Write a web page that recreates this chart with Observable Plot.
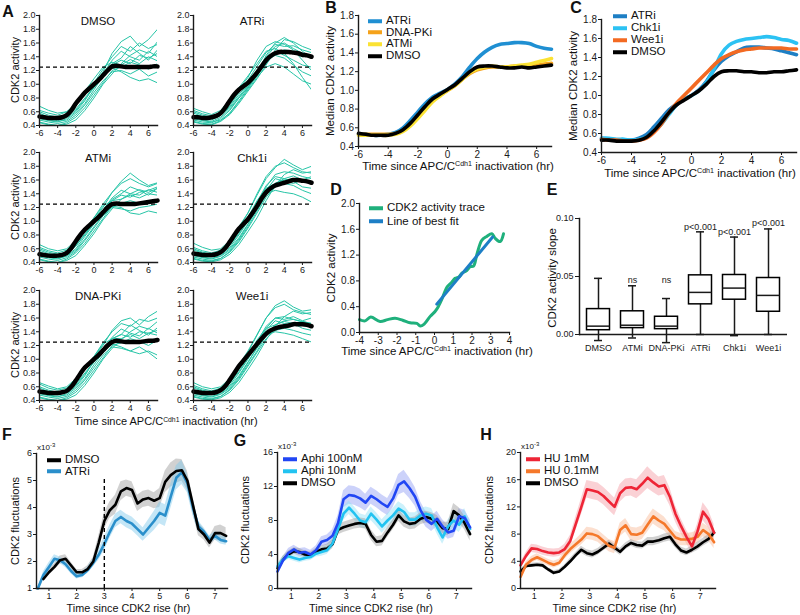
<!DOCTYPE html>
<html><head><meta charset="utf-8">
<script src="https://cdn.jsdelivr.net/npm/d3@7"></script>
<script src="https://cdn.jsdelivr.net/npm/@observablehq/plot@0.6"></script>
<style>
body{margin:0;background:#fff;}
#fig{position:relative;width:800px;height:615px;overflow:hidden;font-family:"Liberation Sans",Arial,sans-serif;color:#111;background:#fff}
.t{position:absolute;white-space:nowrap;transform:translate(-50%,-50%);line-height:1;}
.r{transform:translate(-50%,-50%) rotate(-90deg);}
.sup{font-size:0.62em;position:relative;top:-0.5em}
.lg{position:absolute;white-space:nowrap;line-height:1}
.lg .row{position:absolute;left:0;display:flex;align-items:center;transform:translateY(-50%)}
.lg .sw{display:inline-block;width:14px;height:4px;margin-right:4px}
.letter{position:absolute;font-weight:bold;font-size:16px;transform:translate(-50%,-50%);line-height:1}
</style>
</head><body><div id="fig"></div>
<script>
// ---------------- DATA ----------------
// Panel A
const aNames = ["DMSO","ATRi","ATMi","Chk1i","DNA-PKi","Wee1i"];
const aTimes = [-6,-5.5,-5,-4.5,-4,-3.5,-3,-2.5,-2,-1.5,-1,-0.5,0,0.5,1,1.5,2,2.5,3,3.5,4,4.5,5,5.5,6,6.5,7];
const aTraceTimes = [-6,-5,-4,-3,-2,-1,0,1,2,3,4,5,6,7];
const aXTicks = [-6,-4,-2,0,2,4,6];
const aYTicks = [0.4,0.6,0.8,1.0,1.2,1.4,1.6,1.8,2.0];
const aThreshold = [1.25];
const medDMSO  = [0.53,0.52,0.51,0.51,0.51,0.52,0.55,0.62,0.72,0.80,0.88,0.94,1.00,1.06,1.13,1.20,1.26,1.27,1.26,1.25,1.25,1.25,1.25,1.25,1.25,1.26,1.26];
const medATRi  = [0.52,0.52,0.51,0.51,0.52,0.54,0.58,0.66,0.76,0.85,0.92,0.97,1.02,1.09,1.17,1.26,1.35,1.41,1.45,1.47,1.47,1.47,1.46,1.45,1.43,1.42,1.40];
const medATMi  = [0.52,0.51,0.50,0.50,0.50,0.51,0.54,0.61,0.71,0.80,0.88,0.94,1.00,1.06,1.13,1.20,1.25,1.26,1.25,1.25,1.25,1.25,1.26,1.27,1.28,1.29,1.30];
const medChk1i = [0.53,0.52,0.51,0.51,0.51,0.52,0.55,0.61,0.70,0.80,0.89,0.96,1.03,1.12,1.22,1.33,1.42,1.48,1.52,1.54,1.56,1.58,1.60,1.60,1.59,1.58,1.56];
const medDNAPKi= [0.53,0.52,0.51,0.51,0.51,0.52,0.54,0.60,0.69,0.79,0.88,0.94,1.00,1.06,1.13,1.20,1.25,1.27,1.26,1.25,1.25,1.25,1.25,1.26,1.27,1.27,1.28];
const medWee1i = [0.53,0.52,0.51,0.51,0.51,0.52,0.55,0.61,0.70,0.80,0.90,0.98,1.06,1.14,1.22,1.30,1.37,1.42,1.45,1.47,1.48,1.49,1.51,1.51,1.51,1.50,1.48];
const tracesDMSO = [
 [0.55,0.50,0.47,0.52,0.62,0.78,0.95,1.10,1.28,1.35,1.30,1.42,1.38,1.45],
 [0.62,0.58,0.55,0.60,0.70,0.85,1.02,1.22,1.40,1.55,1.48,1.60,1.52,1.58],
 [0.48,0.45,0.43,0.46,0.55,0.70,0.88,1.05,1.18,1.20,1.15,1.22,1.12,1.18],
 [0.58,0.52,0.50,0.56,0.68,0.90,1.08,1.25,1.32,1.28,1.36,1.30,1.40,1.34],
 [0.45,0.42,0.40,0.42,0.48,0.62,0.80,1.00,1.15,1.30,1.42,1.50,1.45,1.62],
 [0.68,0.62,0.58,0.60,0.72,0.88,1.00,1.18,1.45,1.62,1.70,1.55,1.65,1.80],
 [0.52,0.48,0.46,0.48,0.58,0.72,0.92,1.12,1.24,1.18,1.10,1.05,1.08,1.02],
 [0.50,0.47,0.45,0.50,0.60,0.76,0.98,1.15,1.35,1.48,1.40,1.35,1.48,1.40],
 [0.60,0.55,0.52,0.54,0.64,0.80,0.96,1.14,1.30,1.38,1.55,1.45,1.35,1.50],
 [0.44,0.41,0.40,0.44,0.52,0.66,0.84,1.02,1.20,1.25,1.32,1.28,1.22,1.30]];
const tracesATRi = [
 [0.55,0.50,0.48,0.55,0.68,0.85,1.00,1.20,1.40,1.55,1.60,1.52,1.45,1.40],
 [0.60,0.55,0.52,0.58,0.72,0.92,1.10,1.35,1.55,1.62,1.58,1.50,1.35,1.20],
 [0.48,0.45,0.44,0.50,0.62,0.80,0.95,1.12,1.30,1.45,1.50,1.48,1.40,1.42],
 [0.65,0.60,0.56,0.62,0.78,0.95,1.12,1.30,1.48,1.52,1.45,1.30,1.10,0.92],
 [0.45,0.42,0.41,0.46,0.56,0.72,0.90,1.08,1.28,1.50,1.65,1.62,1.55,1.50],
 [0.58,0.53,0.50,0.55,0.66,0.82,0.98,1.18,1.38,1.48,1.42,1.35,1.28,1.25],
 [0.52,0.48,0.46,0.52,0.64,0.80,0.96,1.15,1.42,1.60,1.68,1.60,1.48,1.38],
 [0.50,0.47,0.45,0.48,0.58,0.74,0.92,1.10,1.25,1.30,1.25,1.15,1.05,1.00],
 [0.62,0.57,0.54,0.58,0.70,0.88,1.06,1.26,1.46,1.58,1.55,1.56,1.50,1.46],
 [0.46,0.43,0.42,0.47,0.58,0.76,0.94,1.14,1.34,1.42,1.38,1.28,1.18,1.12]];
const tracesATMi = [
 [0.56,0.50,0.47,0.52,0.64,0.82,0.98,1.15,1.30,1.38,1.35,1.42,1.45,1.50],
 [0.62,0.57,0.54,0.58,0.70,0.88,1.05,1.25,1.42,1.55,1.62,1.55,1.50,1.55],
 [0.48,0.45,0.43,0.47,0.56,0.72,0.90,1.08,1.20,1.18,1.15,1.20,1.22,1.25],
 [0.58,0.53,0.50,0.55,0.66,0.86,1.05,1.22,1.30,1.32,1.38,1.34,1.40,1.38],
 [0.45,0.42,0.40,0.43,0.50,0.65,0.82,1.02,1.18,1.32,1.40,1.46,1.42,1.48],
 [0.66,0.60,0.57,0.60,0.72,0.90,1.02,1.20,1.42,1.58,1.70,1.60,1.52,1.56],
 [0.52,0.48,0.46,0.49,0.58,0.74,0.92,1.10,1.22,1.20,1.12,1.10,1.15,1.12],
 [0.50,0.47,0.45,0.50,0.60,0.78,0.96,1.16,1.34,1.45,1.40,1.38,1.46,1.42],
 [0.60,0.55,0.52,0.55,0.64,0.80,0.98,1.16,1.32,1.40,1.50,1.45,1.38,1.48],
 [0.44,0.41,0.40,0.45,0.54,0.68,0.86,1.04,1.22,1.26,1.30,1.26,1.28,1.32]];
const tracesChk1i = [
 [0.55,0.50,0.48,0.52,0.62,0.80,1.00,1.25,1.50,1.68,1.72,1.70,1.65,1.62],
 [0.62,0.57,0.54,0.58,0.70,0.90,1.12,1.40,1.65,1.80,1.85,1.78,1.72,1.70],
 [0.48,0.45,0.43,0.46,0.55,0.70,0.90,1.12,1.35,1.50,1.55,1.52,1.45,1.40],
 [0.60,0.55,0.52,0.56,0.66,0.85,1.06,1.30,1.48,1.55,1.60,1.62,1.58,1.55],
 [0.45,0.42,0.41,0.44,0.52,0.66,0.85,1.05,1.30,1.52,1.68,1.75,1.70,1.72],
 [0.68,0.62,0.58,0.60,0.72,0.92,1.12,1.38,1.62,1.78,1.90,1.82,1.75,1.80],
 [0.52,0.48,0.46,0.50,0.60,0.76,0.96,1.18,1.40,1.45,1.42,1.40,1.35,1.28],
 [0.50,0.47,0.45,0.49,0.58,0.74,0.95,1.20,1.45,1.62,1.58,1.55,1.60,1.58],
 [0.58,0.54,0.51,0.55,0.65,0.82,1.02,1.28,1.52,1.65,1.62,1.66,1.60,1.65],
 [0.46,0.43,0.42,0.46,0.56,0.72,0.92,1.15,1.38,1.55,1.62,1.58,1.50,1.48]];
const tracesDNAPKi = [
 [0.55,0.50,0.48,0.52,0.62,0.78,0.96,1.14,1.30,1.36,1.32,1.40,1.38,1.42],
 [0.64,0.58,0.55,0.58,0.70,0.86,1.04,1.24,1.40,1.52,1.48,1.58,1.55,1.60],
 [0.48,0.45,0.43,0.46,0.55,0.70,0.88,1.06,1.18,1.16,1.12,1.18,1.10,1.00],
 [0.58,0.53,0.50,0.55,0.66,0.86,1.04,1.22,1.30,1.30,1.36,1.30,1.38,1.35],
 [0.45,0.42,0.40,0.42,0.48,0.62,0.80,1.00,1.16,1.28,1.40,1.48,1.44,1.55],
 [0.66,0.61,0.57,0.60,0.72,0.88,1.02,1.20,1.42,1.56,1.60,1.50,1.62,1.70],
 [0.52,0.48,0.46,0.48,0.58,0.72,0.92,1.10,1.22,1.18,1.12,1.08,1.12,1.06],
 [0.50,0.47,0.45,0.50,0.60,0.76,0.98,1.15,1.32,1.44,1.38,1.34,1.45,1.38],
 [0.60,0.55,0.52,0.54,0.64,0.80,0.96,1.14,1.30,1.36,1.50,1.42,1.35,1.46],
 [0.44,0.41,0.40,0.44,0.52,0.66,0.84,1.02,1.20,1.24,1.30,1.26,1.20,1.28]];
const tracesWee1i = [
 [0.55,0.50,0.48,0.52,0.62,0.80,1.00,1.22,1.45,1.60,1.62,1.58,1.55,1.52],
 [0.62,0.57,0.54,0.58,0.70,0.90,1.10,1.35,1.60,1.75,1.80,1.72,1.68,1.65],
 [0.48,0.45,0.43,0.46,0.55,0.70,0.90,1.10,1.30,1.42,1.45,1.42,1.38,1.35],
 [0.60,0.55,0.52,0.56,0.66,0.85,1.05,1.28,1.45,1.50,1.56,1.58,1.54,1.50],
 [0.45,0.42,0.41,0.44,0.52,0.66,0.85,1.05,1.28,1.48,1.62,1.70,1.66,1.68],
 [0.66,0.60,0.57,0.60,0.72,0.92,1.12,1.36,1.60,1.78,1.85,1.76,1.70,1.72],
 [0.52,0.48,0.46,0.50,0.60,0.76,0.96,1.16,1.36,1.40,1.38,1.35,1.30,1.25],
 [0.50,0.47,0.45,0.49,0.58,0.74,0.95,1.18,1.42,1.56,1.52,1.50,1.55,1.52],
 [0.58,0.54,0.51,0.55,0.65,0.82,1.02,1.25,1.48,1.60,1.58,1.62,1.56,1.60],
 [0.46,0.43,0.42,0.46,0.56,0.72,0.92,1.12,1.35,1.50,1.55,1.52,1.45,1.42]];

// Panel B
const bNames = ["ATRi","DNA-PKi","ATMi","DMSO"];
const bColors = ["#1f8fd2","#f5a21b","#fbe233","#000000"];
const bATRi  = [0.53,0.53,0.52,0.52,0.53,0.55,0.60,0.68,0.77,0.86,0.93,0.97,1.01,1.07,1.15,1.25,1.34,1.41,1.46,1.49,1.50,1.51,1.51,1.50,1.47,1.45,1.44];
const bDNAPKi= [0.53,0.53,0.53,0.53,0.53,0.54,0.57,0.63,0.71,0.80,0.89,0.95,1.00,1.05,1.12,1.18,1.22,1.24,1.25,1.25,1.25,1.26,1.26,1.27,1.27,1.28,1.29];
const bATMi  = [0.52,0.52,0.52,0.52,0.52,0.53,0.56,0.62,0.70,0.79,0.88,0.94,1.00,1.05,1.12,1.19,1.23,1.25,1.26,1.25,1.25,1.26,1.27,1.28,1.30,1.32,1.34];
const bDMSO  = [0.54,0.53,0.52,0.52,0.52,0.54,0.58,0.65,0.74,0.83,0.91,0.96,1.01,1.06,1.13,1.20,1.25,1.26,1.26,1.25,1.24,1.24,1.25,1.24,1.25,1.26,1.27];
const bcYTicks = [0.4,0.6,0.8,1.0,1.2,1.4,1.6,1.8];

// Panel C
const cNames = ["ATRi","Chk1i","Wee1i","DMSO"];
const cColors = ["#1e7fc4","#2cc2f3","#f36a22","#000000"];
const cATRi  = [0.55,0.54,0.53,0.53,0.53,0.55,0.59,0.67,0.76,0.85,0.91,0.96,1.00,1.06,1.15,1.27,1.36,1.42,1.46,1.50,1.51,1.51,1.50,1.49,1.47,1.45,1.43];
const cChk1i = [0.55,0.55,0.54,0.54,0.53,0.54,0.56,0.62,0.70,0.80,0.90,0.96,1.00,1.05,1.14,1.28,1.44,1.53,1.57,1.59,1.60,1.61,1.62,1.61,1.59,1.58,1.55];
const cWee1i = [0.54,0.53,0.53,0.52,0.52,0.53,0.55,0.61,0.70,0.82,0.92,1.00,1.08,1.16,1.24,1.32,1.39,1.43,1.46,1.48,1.49,1.50,1.50,1.50,1.50,1.49,1.49];
const cDMSO  = [0.53,0.53,0.52,0.52,0.52,0.53,0.56,0.63,0.72,0.82,0.90,0.95,1.00,1.05,1.12,1.20,1.25,1.26,1.26,1.25,1.25,1.24,1.24,1.25,1.25,1.26,1.27];

// Panel D
const dNames = ["CDK2 activity trace","Line of best fit"];
const dColors = ["#1fb07c","#1d7fc6"];
const dTime  = [-4,-3.7,-3.4,-2.9,-2.5,-2.1,-1.7,-1.3,-0.94,-0.76,-0.55,-0.23,0.04,0.2,0.4,0.66,0.92,1.1,1.3,1.46,1.72,1.9,2.08,2.26,2.52,2.79,3.06,3.24,3.5,3.68];
const dTrace = [0.20,0.18,0.24,0.17,0.20,0.22,0.19,0.15,0.14,0.10,0.13,0.25,0.33,0.40,0.52,0.70,0.78,0.84,0.86,0.92,0.96,1.02,1.03,1.21,1.43,1.49,1.53,1.46,1.41,1.53];
const dFitTime = [0.12,3.1];
const dFitValue = [0.44,1.48];
const dXTicks = [-4,-3,-2,-1,0,1,2,3,4];
const dYTicks = [0,0.4,0.8,1.2,1.6,2.0];

// Panel E
const eCats = ["DMSO","ATMi","DNA-PKi","ATRi","Chk1i","Wee1i"];
const eMin = [-0.0052,-0.003,-0.007,0.0,-0.001,0.0];
const eQ1  = [0.0037,0.0055,0.0046,0.026,0.030,0.0196];
const eMed = [0.0072,0.008,0.0072,0.0363,0.040,0.0337];
const eQ3  = [0.0219,0.020,0.0153,0.051,0.0513,0.0487];
const eMax = [0.0484,0.042,0.031,0.0885,0.084,0.091];
const eNote = ["","ns","ns","p<0.001","p<0.001","p<0.001"];
const eNoteY = [null,0.047,0.047,0.093,0.0885,0.096];
const eYTicks = [0,0.05,0.10];

// Panel F
const fNames = ["DMSO","ATRi"];
const fColors = ["#000000","#2a8fcb"];
const fBands = ["#9a9a9a","#7cc7ea"];
const fDmsoT = [0.8,1.0,1.2,1.4,1.6,1.8,2.0,2.2,2.4,2.6,2.8,3.0,3.2,3.4,3.6,3.8,4.0,4.2,4.4,4.6,4.8,5.0,5.2,5.4,5.6,5.8,6.0,6.2,6.4,6.6,6.8,7.0,7.2,7.4];
const fDmso  = [1.35,1.6,1.8,2.05,2.1,1.85,1.6,1.6,1.72,2.0,2.7,3.5,3.9,4.1,4.6,4.72,4.65,4.15,4.3,4.35,4.25,4.35,4.95,5.2,5.35,5.38,5.0,4.1,3.2,3.0,2.7,3.05,3.05,2.95];
const fDmsoSem=[0.1,0.12,0.12,0.15,0.15,0.12,0.1,0.1,0.12,0.15,0.25,0.3,0.3,0.35,0.35,0.3,0.3,0.3,0.3,0.3,0.3,0.35,0.4,0.45,0.45,0.4,0.35,0.3,0.25,0.2,0.2,0.25,0.3,0.3];
const fAtrT  = [0.6,0.8,1.0,1.2,1.4,1.6,1.8,2.0,2.2,2.4,2.6,2.8,3.0,3.2,3.4,3.6,3.8,4.0,4.2,4.4,4.6,4.8,5.0,5.2,5.4,5.6,5.8,6.0,6.2,6.4,6.6,6.8,7.0,7.2,7.4];
const fAtr   = [1.0,1.5,1.8,2.1,2.05,1.9,1.65,1.45,1.5,1.68,1.95,2.25,2.65,3.1,3.5,3.65,3.5,3.4,3.2,3.0,3.25,3.5,3.8,3.7,4.4,5.1,5.3,4.9,4.0,3.3,3.1,2.8,2.95,2.8,2.75];
const fAtrSem= [0.05,0.12,0.15,0.15,0.12,0.12,0.1,0.1,0.1,0.12,0.15,0.2,0.25,0.25,0.25,0.25,0.25,0.25,0.25,0.25,0.3,0.35,0.4,0.4,0.45,0.45,0.45,0.35,0.3,0.2,0.15,0.15,0.15,0.15,0.15];
const fMarkTime = [3];
const fMarkTop = 5.15;
const fghXTicks = [1,2,3,4,5,6,7];

// Panels G and H share a time grid
const ghT = [0.5,0.7,0.9,1.1,1.3,1.5,1.7,1.9,2.1,2.3,2.5,2.7,2.9,3.1,3.3,3.5,3.7,3.9,4.1,4.3,4.5,4.7,4.9,5.1,5.3,5.5,5.7,5.9,6.1,6.3,6.5,6.7,6.9,7.1,7.3,7.5];
const gNames = ["Aphi 100nM","Aphi 10nM","DMSO"];
const gColors = ["#2146f4","#22c3f1","#000000"];
const gBands = ["#8d9cf5","#8fdff6","#9a9a9a"];
const gAphi100 = [2.0,3.3,4.2,4.6,4.2,4.3,4.0,4.5,5.5,5.7,6.2,7.7,10.5,11.0,10.9,10.6,10.1,10.9,10.5,10.0,9.6,10.6,12.2,12.6,11.8,10.8,9.2,8.1,7.6,8.2,7.3,6.6,6.8,8.5,8.3,7.2];
const gAphi100Sem = [0.3,0.4,0.5,0.5,0.5,0.5,0.5,0.5,0.6,0.6,0.7,0.9,1.0,1.1,1.1,1.1,1.0,1.0,1.0,1.0,1.0,1.1,1.2,1.3,1.2,1.1,1.0,0.9,0.9,0.9,0.8,0.8,0.8,0.9,0.9,0.9];
const gAphi10 = [2.6,3.4,3.8,3.6,3.4,3.6,3.7,4.1,4.3,4.5,5.3,7.0,8.8,9.5,8.8,8.0,7.8,8.8,8.1,7.3,8.0,8.6,9.4,9.0,8.1,8.1,8.6,8.8,8.6,7.2,6.0,7.3,8.0,7.5,8.5,7.0];
const gAphi10Sem = [0.3,0.4,0.4,0.4,0.4,0.4,0.4,0.4,0.5,0.5,0.6,0.7,0.8,0.8,0.8,0.8,0.8,0.8,0.8,0.8,0.8,0.8,0.8,0.8,0.8,0.8,0.8,0.8,0.8,0.8,0.8,0.8,0.9,0.9,0.9,0.9];
const gDmso = [2.4,3.4,4.0,4.4,4.3,4.0,3.9,4.3,4.6,4.7,5.2,6.9,7.2,7.4,7.6,7.7,7.6,6.3,5.5,5.6,6.6,7.5,8.6,7.9,7.6,7.7,8.2,8.4,8.2,7.9,7.1,7.0,9.1,8.6,7.7,6.4];
const gDmsoSem = [0.3,0.4,0.4,0.4,0.4,0.4,0.4,0.4,0.4,0.5,0.5,0.6,0.6,0.6,0.6,0.6,0.6,0.6,0.6,0.6,0.6,0.6,0.7,0.7,0.7,0.7,0.7,0.7,0.7,0.7,0.7,0.8,0.9,0.9,0.8,0.8];
const hNames = ["HU 1mM","HU 0.1mM","DMSO"];
const hColors = ["#ee2536","#f5782a","#000000"];
const hBands = ["#f59aa2","#f8b795","#9a9a9a"];
const hHU1 = [3.4,4.8,5.9,5.8,5.5,5.3,5.2,5.3,5.8,7.0,9.5,12.0,14.6,14.4,14.2,13.6,12.8,12.0,14.0,14.8,14.9,14.6,15.4,16.3,15.6,15.0,15.2,13.5,11.0,9.2,7.6,6.2,8.4,11.3,10.2,8.2];
const hHU1Sem = [0.4,0.5,0.6,0.6,0.6,0.6,0.6,0.6,0.7,0.8,1.0,1.2,1.3,1.3,1.3,1.3,1.3,1.3,1.3,1.3,1.3,1.4,1.5,1.6,1.5,1.4,1.4,1.3,1.2,1.1,1.0,1.0,1.1,1.3,1.3,1.2];
const hHU01 = [1.7,3.5,4.2,4.6,4.2,3.8,3.5,3.8,4.9,5.8,6.5,7.2,8.1,8.0,7.7,7.0,6.3,6.0,8.6,9.3,8.0,7.9,8.2,9.4,10.6,10.0,9.5,8.5,7.5,7.2,7.2,7.3,7.6,8.6,8.0,6.8];
const hHU01Sem = [0.3,0.4,0.5,0.5,0.5,0.5,0.5,0.5,0.6,0.7,0.7,0.8,0.9,0.9,0.9,0.9,0.9,0.9,1.0,1.0,1.0,1.0,1.0,1.1,1.1,1.1,1.0,1.0,0.9,0.9,0.9,0.9,0.9,1.0,1.0,0.9];
const hDmso = [2.5,3.3,3.4,3.5,3.4,2.8,2.3,2.5,3.2,4.0,4.9,5.7,5.2,5.0,5.4,6.0,6.6,6.0,5.4,6.2,6.7,6.4,6.3,6.9,6.9,7.1,7.4,7.6,6.5,5.6,5.3,5.7,6.2,6.8,7.3,8.2];
const hDmsoSem = [0.3,0.3,0.3,0.3,0.3,0.3,0.3,0.3,0.3,0.4,0.4,0.5,0.5,0.5,0.5,0.5,0.5,0.5,0.5,0.5,0.5,0.5,0.5,0.6,0.6,0.6,0.6,0.6,0.5,0.5,0.5,0.5,0.6,0.6,0.6,0.6];

// ---------------- DRAWING ----------------
const fig = document.getElementById("fig");
const FONT = "'Liberation Sans', Arial, sans-serif";
const teal = "#27c5a7";
const hyph = d => String(d);

function put(svg, left, top) {
  svg.style.position = "absolute";
  svg.style.left = left + "px";
  svg.style.top = top + "px";
  fig.appendChild(svg);
}
function text(html, x, y, size, rotate, extra) {
  const d = document.createElement("div");
  d.className = "t" + (rotate ? " r" : "");
  d.style.left = x + "px"; d.style.top = y + "px";
  d.style.fontSize = size + "px";
  if (extra) Object.assign(d.style, extra);
  d.innerHTML = html;
  fig.appendChild(d);
}
function letter(s, x, y) {
  const d = document.createElement("div");
  d.className = "letter"; d.textContent = s;
  d.style.left = x + "px"; d.style.top = y + "px";
  fig.appendChild(d);
}
function legend(names, colors, x, y, step, size) {
  const box = document.createElement("div");
  box.className = "lg";
  box.style.left = x + "px"; box.style.top = y + "px"; box.style.fontSize = size + "px";
  names.forEach((n, i) => {
    const r = document.createElement("div");
    r.className = "row"; r.style.top = (i * step) + "px";
    r.innerHTML = `<span class="sw" style="background:${colors[i]}"></span><span>${n}</span>`;
    box.appendChild(r);
  });
  fig.appendChild(box);
}
const style = (fs) => ({background: "transparent", fontSize: fs + "px", fontFamily: FONT, color: "#1a1a1a", overflow: "visible"});
const cdh1 = 'Time since APC/C<span class="sup">Cdh1</span> inactivation (hr)';

// ---- Panel A ----
const aMedians = [medDMSO, medATRi, medATMi, medChk1i, medDNAPKi, medWee1i];
const aTraces = [tracesDMSO, tracesATRi, tracesATMi, tracesChk1i, tracesDNAPKi, tracesWee1i];
const colX = [39, 193], rowY = [15, 152, 290];
const aW = 118, aH = 110;
aNames.forEach((name, i) => {
  const col = i % 2, row = Math.floor(i / 2);
  const rows = aTraces[i].flatMap((vals, k) => vals.map((v, j) => ({id: k, t: aTraceTimes[j], v})));
  const med = aMedians[i].map((v, j) => ({t: aTimes[j], v}));
  const svg = Plot.plot({
    width: aW + 25, height: aH + 16, marginLeft: 22, marginRight: 3, marginTop: 2, marginBottom: 14,
    style: style(9),
    x: {domain: [-6, 7], ticks: aXTicks, tickSize: 3, tickPadding: 1, tickFormat: hyph, label: null},
    y: {domain: [0.4, 2.0], ticks: aYTicks, tickSize: 3, tickPadding: 1, tickFormat: d3.format(".1f"), label: null},
    marks: [
      Plot.line(rows, {x: "t", y: "v", z: "id", stroke: teal, strokeWidth: 1, clip: true}),
      Plot.ruleY(aThreshold, {stroke: "#000", strokeWidth: 1.3, strokeDasharray: "4,3"}),
      Plot.line(med, {x: "t", y: "v", stroke: "#000", strokeWidth: 4.5, curve: "catmull-rom"}),
      Plot.frame({anchor: "left", strokeWidth: 1.4}),
      Plot.frame({anchor: "bottom", strokeWidth: 1.4})
    ]
  });
  put(svg, colX[col] - 22, rowY[row] - 2);
  text(name, colX[col] + aW / 2, rowY[row] + 7, 11.5);
  if (col === 0) text("CDK2 activity", 15, rowY[row] + aH / 2, 11, true);
});
text(cdh1, 166, 421, 11);
letter("A", 8, 12);

// ---- Panel B / C ----
function medianPanel(series, names, colors, frame, letterPos, ylabelX, xlabelPos) {
  const rows = series.flatMap((vals, k) => vals.map((v, j) => ({s: names[k], t: aTimes[j], v})));
  const svg = Plot.plot({
    width: frame.w + 36, height: frame.h + 22, marginLeft: 30, marginRight: 6, marginTop: 6, marginBottom: 16,
    style: style(10),
    x: {domain: [-6, 7], ticks: aXTicks, tickSize: 3, tickPadding: 1, tickFormat: hyph, label: null},
    y: {domain: [0.4, 1.8], ticks: bcYTicks, tickSize: 3, tickPadding: 1.5, tickFormat: d3.format(".1f"), label: null},
    color: {domain: names, range: colors},
    marks: [
      Plot.line(rows, {x: "t", y: "v", z: "s", stroke: "s", strokeWidth: 3.6, curve: "catmull-rom"}),
      Plot.frame({anchor: "left", strokeWidth: 1.4}),
      Plot.frame({anchor: "bottom", strokeWidth: 1.4})
    ]
  });
  put(svg, frame.x - 30, frame.y - 6);
  text("Median CDK2 activity", ylabelX, frame.y + frame.h / 2, 11.5, true);
  text(cdh1, xlabelPos[0], xlabelPos[1], 11.5);
  letter(letterPos[0], letterPos[1], letterPos[2]);
}
medianPanel([bATRi, bDNAPKi, bATMi, bDMSO], bNames, bColors, {x: 358, y: 15, w: 193, h: 131}, ["B", 331, 8], 331, [458, 167]);
legend(bNames, bColors, 368, 21, 11.7, 11.5);
medianPanel([cATRi, cChk1i, cWee1i, cDMSO], cNames, cColors, {x: 601, y: 19, w: 195, h: 133}, ["C", 576, 8], 574, [700, 174]);
legend(cNames, cColors, 613, 16, 12, 11.5);

// ---- Panel D ----
{
  const tr = dTime.map((t, i) => ({t, v: dTrace[i]}));
  const fit = dFitTime.map((t, i) => ({t, v: dFitValue[i]}));
  const svg = Plot.plot({
    width: 150 + 38, height: 129 + 22, marginLeft: 30, marginRight: 8, marginTop: 6, marginBottom: 16,
    style: style(10),
    x: {domain: [-4, 4], ticks: dXTicks, tickSize: 3, tickPadding: 1, tickFormat: hyph, label: null},
    y: {domain: [0, 2.0], ticks: dYTicks, tickSize: 3, tickPadding: 1.5, tickFormat: d3.format(".1f"), label: null},
    marks: [
      Plot.line(tr, {x: "t", y: "v", stroke: dColors[0], strokeWidth: 3, curve: "catmull-rom"}),
      Plot.line(fit, {x: "t", y: "v", stroke: dColors[1], strokeWidth: 3}),
      Plot.frame({anchor: "left", strokeWidth: 1.4}),
      Plot.frame({anchor: "bottom", strokeWidth: 1.4})
    ]
  });
  put(svg, 359 - 30, 203 - 6);
  text("CDK2 activity", 332, 268, 11.5, true);
  text(cdh1, 437, 352, 11.5);
  letter("D", 336, 190);
  legend(dNames, dColors, 369, 208, 13.5, 11.5);
}

// ---- Panel E ----
{
  const rows = eCats.map((c, i) => ({c, min: eMin[i], q1: eQ1[i], med: eMed[i], q3: eQ3[i], max: eMax[i], note: eNote[i], ny: eNoteY[i]}));
  const svg = Plot.plot({
    width: 208 + 38, height: 116 + 36, marginLeft: 32, marginRight: 6, marginTop: 14, marginBottom: 22,
    style: style(9),
    x: {domain: eCats, paddingInner: 0, paddingOuter: 0.03, tickSize: 0, tickPadding: 10, label: null},
    y: {domain: [0, 0.1], ticks: eYTicks, tickSize: 4, tickPadding: 2, tickFormat: d3.format(".2f"), label: null},
    marks: [
      Plot.ruleX(rows, {x: "c", y1: "min", y2: "max", strokeWidth: 1.5}),
      Plot.barY(rows, {x: "c", y1: "q1", y2: "q3", fill: "white", stroke: "#000", strokeWidth: 1.5, insetLeft: 5.5, insetRight: 5.5}),
      Plot.tickY(rows, {x: "c", y: "med", strokeWidth: 1.5, insetLeft: 5.5, insetRight: 5.5}),
      Plot.tickY(rows, {x: "c", y: "min", strokeWidth: 1.5, insetLeft: 13, insetRight: 13}),
      Plot.tickY(rows, {x: "c", y: "max", strokeWidth: 1.5, insetLeft: 13, insetRight: 13}),
      Plot.text(rows.filter(d => d.note), {x: "c", y: "ny", text: "note", fontSize: 9}),
      Plot.ruleY([0], {strokeWidth: 1.5}),
      Plot.frame({anchor: "left", strokeWidth: 1.5})
    ]
  });
  put(svg, 579 - 32, 218 - 14);
  text("CDK2 activity slope", 553, 278, 11.5, true);
  letter("E", 552, 190);
}

// ---- Panels F, G, H ----
function fluct(seriesList, frame, xDomain, yDomain, yTicks, extraMarks) {
  const marks = [];
  seriesList.forEach(s => {
    const rows = s.t.map((t, i) => ({t, v: s.v[i], lo: s.v[i] - s.sem[i], hi: s.v[i] + s.sem[i]}));
    marks.push(Plot.areaY(rows, {x: "t", y1: "lo", y2: "hi", fill: s.band, fillOpacity: 0.45}));
    s.rows = rows;
  });
  [...seriesList].reverse().forEach(s => {
    marks.push(Plot.line(s.rows, {x: "t", y: "v", stroke: s.color, strokeWidth: 2.6}));
  });
  marks.push(...(extraMarks || []));
  marks.push(Plot.frame({anchor: "left", strokeWidth: 1.4}), Plot.frame({anchor: "bottom", strokeWidth: 1.4}));
  const svg = Plot.plot({
    width: frame.w + 26, height: frame.h + 22, marginLeft: 22, marginRight: 4, marginTop: 8, marginBottom: 14,
    style: style(9),
    x: {domain: xDomain, ticks: fghXTicks, tickSize: 3, tickPadding: 1, tickFormat: hyph, label: null},
    y: {domain: yDomain, ticks: yTicks, tickSize: 3, tickPadding: 1.5, tickFormat: hyph, label: null},
    marks
  });
  put(svg, frame.x - 22, frame.y - 8);
  text("CDK2 fluctuations", frame.ylab, frame.y + frame.h / 2, 11, true);
  text("Time since CDK2 rise (hr)", frame.x + frame.w / 2 - 3, 608, 10.8);
  text('x10<span class="sup" style="font-size:0.75em">-3</span>', frame.x + 1, frame.y - 5, 8, false, {transform: "translate(0,-50%)"});
}
fluct([
  {t: fDmsoT, v: fDmso, sem: fDmsoSem, color: fColors[0], band: fBands[0]},
  {t: fAtrT, v: fAtr, sem: fAtrSem, color: fColors[1], band: fBands[1]}
], {x: 36, y: 453, w: 191, h: 135, ylab: 15}, [0.55, 7.45], [1, 6], [1, 2, 3, 4, 5, 6],
  [Plot.ruleX(fMarkTime, {y1: 1, y2: fMarkTop, stroke: "#000", strokeWidth: 1.4, strokeDasharray: "4,3"})]);
legend(fNames, fColors, 47, 460, 11.5, 11.5);
letter("F", 7, 435);

fluct([
  {t: ghT, v: gAphi100, sem: gAphi100Sem, color: gColors[0], band: gBands[0]},
  {t: ghT, v: gAphi10, sem: gAphi10Sem, color: gColors[1], band: gBands[1]},
  {t: ghT, v: gDmso, sem: gDmsoSem, color: gColors[2], band: gBands[2]}
], {x: 277, y: 452, w: 194, h: 136, ylab: 245}, [0.5, 7.55], [0, 16], [0, 4, 8, 12, 16]);
legend(gNames, gColors, 283, 459, 12, 11.5);
letter("G", 240, 441);

fluct([
  {t: ghT, v: hHU1, sem: hHU1Sem, color: hColors[0], band: hBands[0]},
  {t: ghT, v: hHU01, sem: hHU01Sem, color: hColors[1], band: hBands[1]},
  {t: ghT, v: hDmso, sem: hDmsoSem, color: hColors[2], band: hBands[2]}
], {x: 520, y: 452, w: 195, h: 136, ylab: 489}, [0.5, 7.55], [0, 20], [0, 4, 8, 12, 16, 20]);
legend(hNames, hColors, 526, 459, 12, 11.5);
letter("H", 486, 435);
</script>
</body></html>
